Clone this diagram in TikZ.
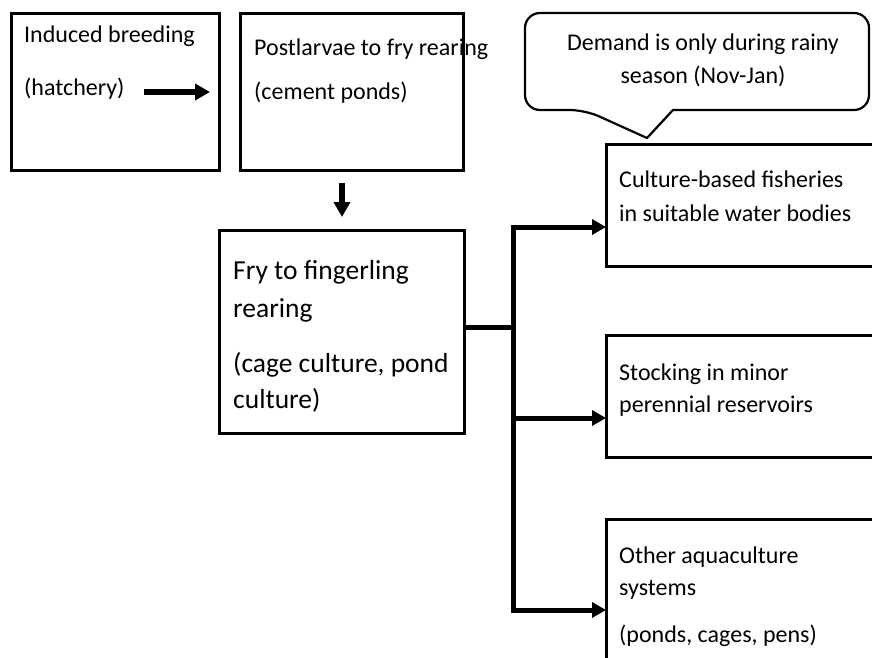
\documentclass[tikz,border=0pt]{standalone}
\usepackage{fontspec}
\setmainfont{Carlito}
\usetikzlibrary{arrows.meta}

\begin{document}
\begin{tikzpicture}
[x=1pt,y=-1pt,
  boxDecorate/.style={shape=rectangle,draw,line width=3pt,inner sep=0pt,outer sep=0pt},%
  textDecorate/.style={anchor=base west,inner sep=0pt,font=\fontsize{24}{29}\selectfont},%
  bigTextDecorate/.style={textDecorate,font=\fontsize{27.5}{33}\selectfont},%
  noteDecorate/.style={textDecorate,anchor=base},%
  lineDecorate/.style={-,line width=5pt},%
  arrowDecorate/.style={-{Triangle[length=14pt,width=15pt]},line width=5pt},%
  bigArrowDecorate/.style={-{Triangle[length=15pt,width=16pt]},line width=6pt},%
  calloutDecorate/.style={draw,line width=2.2pt,line join=round}]
\useasboundingbox[fill=white] (0,0) rectangle (872,657);
%% boxes
\foreach \nodename/\x/\y/\w/\h in {
  hatchery/115.25/92/207.5/157, cement/351.5/92/223/157,
  fingerling/341.85/332/244.3/203, fisheries/763/205/314/122,
  reservoirs/763/396/314/122, other/763/619.5/314/201}
{
  \node (\nodename) at (\x,\y) [boxDecorate,minimum width=\w pt,minimum height=\h pt] {};
}
%% texts in the boxes
\foreach \nodename/\x/\y/\txt in {
  breedingText/24/42/Induced breeding, hatcheryText/24/95/(hatchery),
  postlarvaeText/254/55/Postlarvae to fry rearing, cementText/254/99/(cement ponds),
  fisheriesText/619/187/Culture-based fisheries, waterText/619/221/in suitable water bodies,
  stockingText/619/380/Stocking in minor, reservoirsText/619/412/perennial reservoirs,
  otherText/619/563/Other aquaculture, systemsText/619/595/systems,
  pensText/619/642/{(ponds, cages, pens)}}
{
  \node (\nodename) at (\x,\y) [textDecorate] {\txt};
}
\foreach \nodename/\x/\y/\txt in {
  fryText/233/279/Fry to fingerling, rearingText/233/317/rearing,
  cageText/233/372/{(cage culture, pond}, cultureText/233/408/culture)}
{
  \node (\nodename) at (\x,\y) [bigTextDecorate] {\txt};
}
%% callout
\draw[calloutDecorate] (700,13) [rounded corners=15pt] -- (525,13) -- (525,110)
  -- (585,110) [sharp corners] -- (647,138) -- (673,110) [rounded corners=15pt]
  -- (869,110) -- (869,13) -- cycle;
\node (demandText) at (703,50) [noteDecorate] {Demand is only during rainy};
\node (seasonText) at (703,83) [noteDecorate] {season (Nov-Jan)};
%% arrows and lines
\coordinate (hatcheryStart) at (144,92);
\coordinate (hatcheryEnd) at (210,92);
\coordinate (pondsStart) at (342,183);
\coordinate (pondsEnd) at (342,217);
\coordinate (split) at (513,327);
\coordinate (toFisheries) at (513,227);
\coordinate (toReservoirs) at (513,418);
\coordinate (toOther) at (513,610);
\draw[bigArrowDecorate] (hatcheryStart) -- (hatcheryEnd);
\draw[bigArrowDecorate] (pondsStart) -- (pondsEnd);
\draw[lineDecorate] (fingerling.east |- split) -- (split);
\draw[lineDecorate,line cap=rect] (toFisheries) -- (toOther);
\foreach \startnode/\endnode in {
  toFisheries/fisheries, toReservoirs/reservoirs, toOther/other}
{
  \draw[arrowDecorate] (\startnode) -- (\startnode -| \endnode.west);
}
\end{tikzpicture}
\end{document}
